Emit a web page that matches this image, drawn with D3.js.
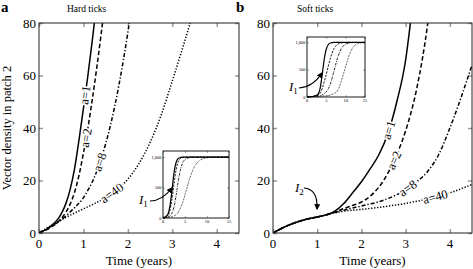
<!DOCTYPE html>
<html>
<head>
<meta charset="utf-8">
<script src="https://cdn.jsdelivr.net/npm/d3@7"></script>
<style>
  body { margin: 0; background: #fff; }
  text { font-family: "Liberation Serif", "DejaVu Serif", serif; }
</style>
</head>
<body>
<script>
// ---- data ----
const labelsA = ["a=1", "a=2", "a=8", "a=40"];

// panel a, hard ticks
const hardT1 = [0, 0.1, 0.2, 0.3, 0.4, 0.5, 0.6, 0.7, 0.8, 0.9, 1.0, 1.1, 1.2, 1.3];
const hardV1 = [0, 0.8, 1.8, 3.1, 4.8, 7.3, 11, 16.5, 24.5, 35.5, 47.5, 60, 73.5, 88];
const hardT2 = [0, 0.1, 0.2, 0.3, 0.4, 0.5, 0.6, 0.7, 0.8, 0.9, 1.0, 1.1, 1.2, 1.3, 1.4, 1.5];
const hardV2 = [0, 0.7, 1.5, 2.5, 3.8, 5.5, 7.8, 11, 15.5, 22, 30.5, 40, 51, 63, 76, 90];
const hardT8 = [0, 0.25, 0.5, 0.75, 1.0, 1.1, 1.2, 1.3, 1.4, 1.5, 1.6, 1.7, 1.8, 1.9, 2.0, 2.1];
const hardV8 = [0, 2.3, 5, 8.8, 13.5, 16.3, 19.5, 23.5, 28.5, 34, 40.5, 48, 56.5, 66, 76.5, 88];
const hardT40 = [0, 0.25, 0.5, 0.75, 1.0, 1.25, 1.5, 1.75, 2.0, 2.25, 2.5, 2.75, 3.0, 3.25, 3.5];
const hardV40 = [0, 2.6, 5, 7.2, 9.2, 11.2, 13.5, 16.5, 20.5, 26.5, 34.5, 45, 58, 71.5, 85.5];

// panel b, soft ticks
const softT1 = [0, 0.2, 0.4, 0.6, 0.8, 1.0, 1.2, 1.4, 1.6, 1.8, 2.0, 2.2, 2.4, 2.6, 2.8, 3.0, 3.1, 3.2];
const softV1 = [0, 1.8, 3.3, 4.5, 5.4, 6.1, 6.9, 8.3, 11.2, 15.3, 19.5, 24.5, 30, 38, 50, 66, 79, 94];
const softT2 = [0, 0.2, 0.4, 0.6, 0.8, 1.0, 1.2, 1.4, 1.6, 1.8, 2.0, 2.25, 2.5, 2.75, 3.0, 3.25, 3.5, 3.6];
const softV2 = [0, 1.8, 3.3, 4.5, 5.4, 6.1, 6.9, 8.0, 9.3, 10.5, 11.8, 14.8, 20, 28, 39, 55, 80, 94];
const softT8 = [0, 0.2, 0.4, 0.6, 0.8, 1.0, 1.2, 1.4, 1.6, 1.8, 2.0, 2.5, 3.0, 3.25, 3.5, 3.75, 4.0, 4.25, 4.5];
const softV8 = [0, 1.8, 3.3, 4.5, 5.4, 6.1, 6.9, 7.8, 8.7, 9.5, 10.3, 12.5, 16.5, 19.5, 23.5, 30, 40, 51.5, 64];
const softT40 = [0, 0.2, 0.4, 0.6, 0.8, 1.0, 1.2, 1.4, 1.6, 2.0, 2.5, 3.0, 3.5, 4.0, 4.5];
const softV40 = [0, 1.8, 3.3, 4.5, 5.4, 6.1, 6.9, 7.7, 8.3, 9.0, 10.0, 11.3, 13.0, 15.3, 18.5];

// insets (0..15 years, 0..1000)
const insetT = [0, 1, 1.5, 2, 2.5, 3, 3.5, 4, 4.5, 5, 6, 7, 8, 9, 10, 11, 12, 13, 15];
const hardIn1 = [0, 47, 165, 420, 740, 920, 980, 995, 1000, 1000, 1000, 1000, 1000, 1000, 1000, 1000, 1000, 1000, 1000];
const hardIn2 = [0, 31, 100, 290, 560, 800, 930, 980, 995, 1000, 1000, 1000, 1000, 1000, 1000, 1000, 1000, 1000, 1000];
const hardIn8 = [0, 14, 30, 75, 180, 380, 620, 800, 910, 960, 993, 1000, 1000, 1000, 1000, 1000, 1000, 1000, 1000];
const hardIn40 = [0, 9, 13, 21, 34, 58, 100, 170, 260, 380, 630, 820, 925, 970, 988, 996, 1000, 1000, 1000];
const softIn1 = [0, 6.1, 9.5, 19.5, 34, 66, 200, 450, 710, 880, 990, 1000, 1000, 1000, 1000, 1000, 1000, 1000, 1000];
const softIn2 = [0, 6.1, 8.6, 11.8, 20, 39, 80, 170, 290, 420, 700, 890, 970, 993, 1000, 1000, 1000, 1000, 1000];
const softIn8 = [0, 6.1, 8.2, 10.3, 12.5, 16.5, 23.5, 40, 64, 95, 230, 480, 740, 900, 970, 990, 998, 1000, 1000];
const softIn40 = [0, 6.1, 7.8, 9.2, 10.3, 11.5, 13.3, 15.5, 18.5, 22, 35, 65, 130, 320, 560, 780, 920, 975, 1000];

const xTicks = [0, 1, 2, 3, 4];
const yTicks = [0, 20, 40, 60, 80];
const insetXTicks = [0, 5, 10, 15];
const insetYTicks = [0, 500, 1000];

// label spots along each curve (years)
const hardLabelT = [1.04, 1.06, 1.37, 1.64];
const softLabelT = [2.62, 2.74, 3.05, 3.67];

const dashes = [null, "4.5,2.5", "4,2,1.3,2", "1.3,1.7"];
const insetDashes = [null, "2.2,1.3", "2.2,1,0.7,1", "0.7,0.9"];

const W = 473, H = 269;
const svg = d3.select("body").append("svg")
  .attr("width", W)
  .attr("height", H);

const defs = svg.append("defs");
defs.append("marker")
  .attr("id", "arrowhead")
  .attr("viewBox", "0 -5 10 10")
  .attr("refX", 8)
  .attr("refY", 0)
  .attr("markerWidth", 5)
  .attr("markerHeight", 5)
  .attr("orient", "auto")
  .append("path")
  .attr("d", "M0,-5L10,0L0,5Z")
  .attr("fill", "black");

function interp(ts, vs, t) {
  for (let i = 1; i < ts.length; i++) {
    if (t <= ts[i]) {
      const f = (t - ts[i - 1]) / (ts[i] - ts[i - 1]);
      return vs[i - 1] + f * (vs[i] - vs[i - 1]);
    }
  }
  return vs[vs.length - 1];
}

function drawPanel(p) {
  const x = d3.scaleLinear().domain([0, 4.5]).range([p.left, p.right]);
  const y = d3.scaleLinear().domain([0, 80]).range([233, 23]);
  const g = svg.append("g");

  defs.append("clipPath").attr("id", "clip-" + p.id)
    .append("rect")
    .attr("x", p.left).attr("y", 23)
    .attr("width", p.right - p.left).attr("height", 210);

  // inward gray ticks on all four sides
  const tickCol = "#9a9a9a";
  g.append("g")
    .attr("transform", "translate(0,233)")
    .call(d3.axisBottom(x).tickValues(xTicks).tickSize(-4).tickFormat(""))
    .call(a => a.select(".domain").remove())
    .call(a => a.selectAll("line").attr("stroke", tickCol).attr("stroke-width", 1.5));
  g.append("g")
    .attr("transform", "translate(0,23)")
    .call(d3.axisTop(x).tickValues(xTicks).tickSize(-4).tickFormat(""))
    .call(a => a.select(".domain").remove())
    .call(a => a.selectAll("line").attr("stroke", tickCol).attr("stroke-width", 1.5));
  g.append("g")
    .attr("transform", `translate(${p.left},0)`)
    .call(d3.axisLeft(y).tickValues(yTicks).tickSize(-4).tickFormat(""))
    .call(a => a.select(".domain").remove())
    .call(a => a.selectAll("line").attr("stroke", tickCol).attr("stroke-width", 1.5));
  g.append("g")
    .attr("transform", `translate(${p.right},0)`)
    .call(d3.axisRight(y).tickValues(yTicks).tickSize(-4).tickFormat(""))
    .call(a => a.select(".domain").remove())
    .call(a => a.selectAll("line").attr("stroke", tickCol).attr("stroke-width", 1.5));

  // tick labels
  g.selectAll(".xl").data(xTicks).enter().append("text")
    .attr("x", d => x(d)).attr("y", 248)
    .attr("text-anchor", "middle")
    .style("font-size", "13px")
    .text(d => d);
  g.selectAll(".yl").data(yTicks).enter().append("text")
    .attr("x", p.left - 3).attr("y", d => y(d) + 4.5)
    .attr("text-anchor", "end")
    .style("font-size", "13px")
    .text(d => d);

  // curves
  const line = d3.line()
    .x(d => x(d[0]))
    .y(d => y(d[1]))
    .curve(d3.curveMonotoneX);
  const curves = g.append("g").attr("clip-path", `url(#clip-${p.id})`);
  p.series.forEach((s, i) => {
    curves.append("path")
      .attr("d", line(s[0].map((t, j) => [t, s[1][j]])))
      .attr("fill", "none")
      .attr("stroke", "black")
      .attr("stroke-width", 1.5)
      .attr("stroke-dasharray", dashes[i]);
  });

  // rotated curve labels with white knockout
  p.series.forEach((s, i) => {
    const t = p.labelT[i];
    const x0 = x(t - 0.04), y0 = y(interp(s[0], s[1], t - 0.04));
    const x1 = x(t + 0.04), y1 = y(interp(s[0], s[1], t + 0.04));
    const ang = Math.atan2(y1 - y0, x1 - x0) * 180 / Math.PI;
    g.append("text")
      .attr("transform", `translate(${x(t)},${y(interp(s[0], s[1], t))}) rotate(${ang})`)
      .attr("text-anchor", "middle")
      .attr("dy", "0.33em")
      .attr("stroke", "white")
      .attr("stroke-width", 3.5)
      .attr("paint-order", "stroke")
      .style("font-size", "12.5px")
      .text(labelsA[i]);
  });

  // frame
  g.append("rect")
    .attr("x", p.left).attr("y", 23)
    .attr("width", p.right - p.left).attr("height", 210)
    .attr("fill", "none")
    .attr("stroke", "#222")
    .attr("stroke-width", 1);

  g.append("text")
    .attr("x", (p.left + p.right) / 2).attr("y", 265)
    .attr("text-anchor", "middle")
    .style("font-size", "13px")
    .text("Time (years)");

  g.append("text")
    .attr("x", p.letterX).attr("y", 12)
    .style("font-size", "15px")
    .style("font-weight", "bold")
    .text(p.letter);
  g.append("text")
    .attr("x", p.titleX).attr("y", 12)
    .style("font-size", "9.5px")
    .text(p.title);

  drawInset(p.inset, p.insetSeries);
}

function drawInset(box, series) {
  const x = d3.scaleLinear().domain([0, 15]).range([box.x0, box.x1]);
  const y = d3.scaleLinear().domain([0, 1100]).range([box.y1, box.y0]);
  const g = svg.append("g");

  g.append("rect")
    .attr("x", box.x0 - 14).attr("y", box.y0 - 2)
    .attr("width", box.x1 - box.x0 + 16).attr("height", box.y1 - box.y0 + 10)
    .attr("fill", "white");

  const tickCol = "#9a9a9a";
  [[d3.axisBottom(x), box.y1, insetXTicks, "x"], [d3.axisTop(x), box.y0, insetXTicks, "x"],
   [d3.axisLeft(y), box.x0, insetYTicks, "y"], [d3.axisRight(y), box.x1, insetYTicks, "y"]]
    .forEach(([ax, pos, tv, dir]) => {
      g.append("g")
        .attr("transform", dir === "x" ? `translate(0,${pos})` : `translate(${pos},0)`)
        .call(ax.tickValues(tv).tickSize(-2).tickFormat(""))
        .call(a => a.select(".domain").remove())
        .call(a => a.selectAll("line").attr("stroke", tickCol).attr("stroke-width", 0.8));
    });

  g.selectAll(".ixl").data(insetXTicks).enter().append("text")
    .attr("x", d => x(d)).attr("y", box.y1 + 5)
    .attr("text-anchor", "middle")
    .style("font-size", "4.5px")
    .text(d => d);
  g.selectAll(".iyl").data(insetYTicks).enter().append("text")
    .attr("x", box.x0 - 1.5).attr("y", d => y(d) + 1.5)
    .attr("text-anchor", "end")
    .style("font-size", "4.5px")
    .text(d => d3.format(",")(d));

  const line = d3.line()
    .x((d, i) => x(insetT[i]))
    .y(d => y(d))
    .curve(d3.curveMonotoneX);
  series.forEach((s, i) => {
    g.append("path")
      .attr("d", line(s))
      .attr("fill", "none")
      .attr("stroke", "black")
      .attr("stroke-width", i === 0 ? 1.2 : 0.9)
      .attr("stroke-dasharray", insetDashes[i]);
  });

  g.append("rect")
    .attr("x", box.x0).attr("y", box.y0)
    .attr("width", box.x1 - box.x0).attr("height", box.y1 - box.y0)
    .attr("fill", "none")
    .attr("stroke", "black")
    .attr("stroke-width", 0.9);
}

drawPanel({
  id: "a", left: 39, right: 239, letter: "a", letterX: 1, title: "Hard ticks", titleX: 67,
  series: [[hardT1, hardV1], [hardT2, hardV2], [hardT8, hardV8], [hardT40, hardV40]],
  labelT: hardLabelT,
  inset: { x0: 163, x1: 229, y0: 151, y1: 218 },
  insetSeries: [hardIn1, hardIn2, hardIn8, hardIn40]
});
drawPanel({
  id: "b", left: 273, right: 472, letter: "b", letterX: 236, title: "Soft ticks", titleX: 297,
  series: [[softT1, softV1], [softT2, softV2], [softT8, softV8], [softT40, softV40]],
  labelT: softLabelT,
  inset: { x0: 307, x1: 365, y0: 37, y1: 97 },
  insetSeries: [softIn1, softIn2, softIn8, softIn40]
});

// y axis title
svg.append("text")
  .attr("transform", "translate(10.5,128) rotate(-90)")
  .attr("text-anchor", "middle")
  .style("font-size", "12.5px")
  .text("Vector density in patch 2");

// I1 / I2 annotations
function note(xp, yp, sub) {
  const t = svg.append("text")
    .attr("x", xp).attr("y", yp)
    .style("font-size", "13px")
    .style("font-style", "italic");
  t.append("tspan").text("I");
  t.append("tspan").attr("dy", 3).style("font-size", "9px").style("font-style", "normal").text(sub);
}
function arrow(d) {
  svg.append("path")
    .attr("d", d)
    .attr("fill", "none")
    .attr("stroke", "black")
    .attr("stroke-width", 1.2)
    .attr("marker-end", "url(#arrowhead)");
}
note(139, 204, "1");
arrow("M150,201 Q162,201 172,188");
note(289, 91, "1");
arrow("M299,88 Q313,87 322,73");
note(295, 192, "2");
arrow("M304,188 Q318,189 317,209");
</script>
</body>
</html>
